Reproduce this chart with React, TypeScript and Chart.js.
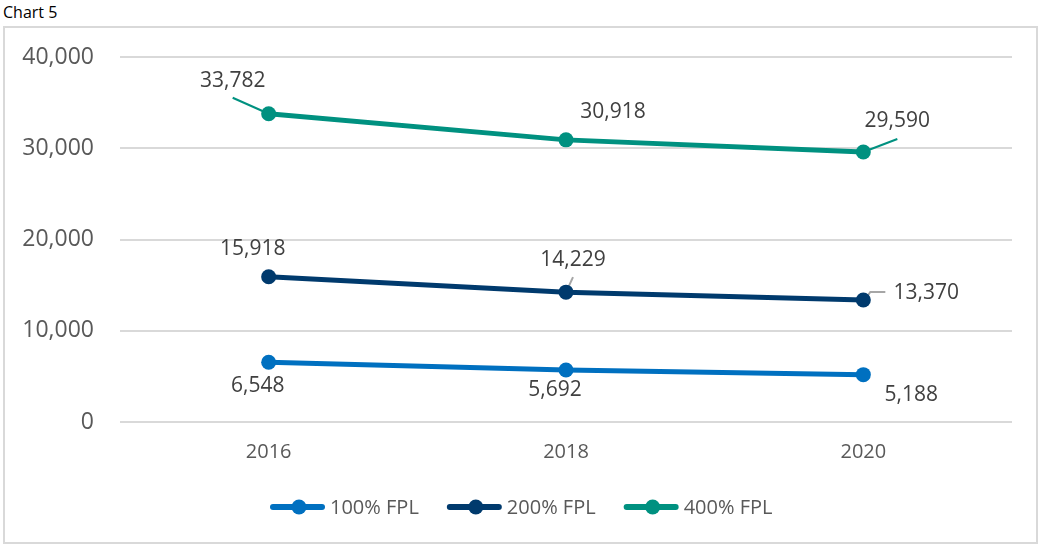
import React, { useEffect, useRef } from "react";
import { Chart, registerables } from "chart.js";

Chart.register(...registerables);

const categories = ["2016", "2018", "2020"];
const seriesNames = ["100% FPL", "200% FPL", "400% FPL"];
const fpl100 = [6548, 5692, 5188];
const fpl200 = [15918, 14229, 13370];
const fpl400 = [33782, 30918, 29590];
const yTicks = [0, 10000, 20000, 30000, 40000];

const COLORS = ["#0070C0", "#003A6D", "#009180"];
const FONT = "'Open Sans', 'Noto Sans', sans-serif";

// label offsets (px) from each point: [dx, dy]
const LABEL_OFFSETS = [
  [[-11, 24], [-11, 20], [48, 20]],
  [[-16, -28], [7, -32], [63, -7]],
  [[-36, -33], [47, -28], [34, -31]],
];
// leader lines: [dataset, index, color or null for series color, path points relative to point]
const LEADERS: [number, number, string | null, number[][]][] = [
  [2, 0, null, [[-36, -16], [0, 0]]],
  [2, 2, null, [[34, -13], [0, 0]]],
  [1, 1, "#a6a6a6", [[7, -15], [1, -2]]],
  [1, 2, "#a6a6a6", [[22, -8], [7, -8], [2, -1]]],
];

const fmt = (v: number) => v.toLocaleString("en-US");

const labelPlugin = {
  id: "customLabels",
  beforeDatasetsDraw(chart: any) {
    const ctx = chart.ctx;
    ctx.save();
    LEADERS.forEach(([di, pi, col, path]) => {
      const el = chart.getDatasetMeta(di).data[pi];
      ctx.strokeStyle = col || COLORS[di];
      ctx.lineWidth = 2;
      ctx.beginPath();
      path.forEach(([dx, dy], k) => {
        if (k === 0) ctx.moveTo(el.x + dx, el.y + dy);
        else ctx.lineTo(el.x + dx, el.y + dy);
      });
      ctx.stroke();
    });
    ctx.restore();
  },
  afterDatasetsDraw(chart: any) {
    const ctx = chart.ctx;
    ctx.save();
    ctx.font = `21px ${FONT}`;
    ctx.fillStyle = "#404040";
    ctx.textAlign = "center";
    ctx.textBaseline = "middle";
    chart.data.datasets.forEach((ds: any, di: number) => {
      chart.getDatasetMeta(di).data.forEach((el: any, i: number) => {
        const [dx, dy] = LABEL_OFFSETS[di][i];
        ctx.fillText(fmt(ds.data[i]), el.x + dx, el.y + dy);
      });
    });
    ctx.restore();
  },
  afterDraw(chart: any) {
    const ctx = chart.ctx;
    ctx.save();
    const y = 479;
    let x = 265;
    ctx.font = `20px ${FONT}`;
    ctx.textBaseline = "middle";
    ctx.textAlign = "left";
    chart.data.datasets.forEach((ds: any, di: number) => {
      ctx.strokeStyle = COLORS[di];
      ctx.lineWidth = 6;
      ctx.lineCap = "round";
      ctx.beginPath();
      ctx.moveTo(x + 3, y);
      ctx.lineTo(x + 52, y);
      ctx.stroke();
      ctx.fillStyle = COLORS[di];
      ctx.beginPath();
      ctx.arc(x + 29, y, 7.5, 0, Math.PI * 2);
      ctx.fill();
      ctx.fillStyle = "#595959";
      ctx.fillText(ds.label, x + 60, y + 1);
      x = x + 60 + ctx.measureText(ds.label).width + 28;
    });
    ctx.restore();
  },
};

export default function App() {
  const ref = useRef<HTMLCanvasElement>(null);
  useEffect(() => {
    if (!ref.current) return;
    const seriesData = [fpl100, fpl200, fpl400];
    const chart = new Chart(ref.current, {
      type: "line",
      data: {
        labels: categories,
        datasets: seriesNames.map((name, i) => ({
          label: name,
          data: seriesData[i],
          borderColor: COLORS[i],
          backgroundColor: COLORS[i],
          borderWidth: 5,
          pointRadius: 7.5,
          pointHoverRadius: 7.5,
          pointBorderWidth: 0,
          tension: 0,
        })),
      },
      options: {
        responsive: false,
        animation: false,
        devicePixelRatio: 1,
        layout: { padding: { top: 29, right: 24, bottom: 0, left: 0 } },
        plugins: { legend: { display: false }, tooltip: { enabled: false }, title: { display: false } },
        scales: {
          x: {
            offset: true,
            grid: { display: false, drawTicks: false },
            border: { display: false },
            ticks: { color: "#595959", font: { family: FONT, size: 20 }, padding: 18 },
            afterFit: (s: any) => { s.height = 120; s.paddingLeft = 0; s.paddingRight = 0; },
          },
          y: {
            min: 0,
            max: 40000,
            afterBuildTicks: (s: any) => { s.ticks = yTicks.map((v) => ({ value: v })); },
            grid: { color: "#d9d9d9", lineWidth: 2, drawTicks: false },
            border: { display: false },
            ticks: {
              color: "#595959",
              font: { family: FONT, size: 23 },
              padding: 26,
              callback: (v: any) => fmt(Number(v)),
            },
            afterFit: (s: any) => { s.width = 115; s.paddingTop = 0; s.paddingBottom = 0; },
          },
        },
      },
      plugins: [labelPlugin],
    });
    return () => chart.destroy();
  }, []);

  return (
    <div style={{ position: "absolute", left: 0, top: 0, width: 1041, height: 545, background: "#fff", fontFamily: FONT }}>
      <div style={{ position: "absolute", left: 3, top: 0, fontSize: 16, color: "#000", lineHeight: "24px" }}>Chart 5</div>
      <div
        style={{
          position: "absolute",
          left: 3,
          top: 26,
          width: 1035,
          height: 518,
          border: "2px solid #d9d9d9",
          boxSizing: "border-box",
        }}
      >
        <canvas ref={ref} width={1031} height={514} style={{ display: "block", width: 1031, height: 514 }} />
      </div>
    </div>
  );
}
